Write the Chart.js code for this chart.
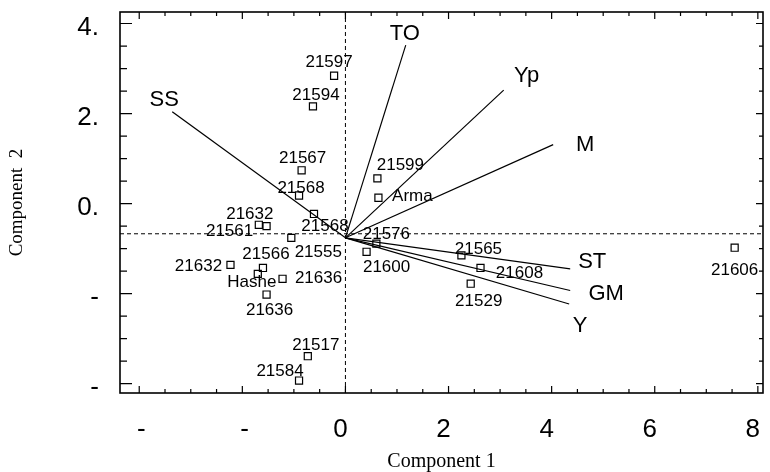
<!DOCTYPE html>
<html>
<head>
<meta charset="utf-8">
<script src="https://cdn.jsdelivr.net/npm/chart.js@4.4.1/dist/chart.umd.min.js"></script>
<style>
html, body { margin: 0; padding: 0; background: #fff; }
#wrap { width: 770px; height: 472px; position: relative; }
</style>
</head>
<body>
<div id="wrap"><canvas id="biplot"></canvas></div>
<script>
// scores (genotypes)
var pointNames = ['21597', '21594', '21567', '21568', '21599', 'Arma', '21568', '21632', '21561', '21555',
  '21566', '21632', 'Hashe', '21636', '21636', '21517', '21584', '21576', '21600', '21565', '21608', '21529', '21606'];
var pointX = [-0.22, -0.63, -0.85, -0.90, 0.62, 0.64, -0.61, -1.68, -1.53, -1.05,
  -1.60, -2.23, -1.70, -1.22, -1.53, -0.73, -0.90, 0.60, 0.41, 2.25, 2.62, 2.43, 7.55];
var pointY = [2.84, 2.16, 0.74, 0.18, 0.56, 0.13, -0.23, -0.47, -0.50, -0.76,
  -1.43, -1.36, -1.56, -1.67, -2.02, -3.39, -3.93, -0.89, -1.07, -1.15, -1.43, -1.78, -0.98];

// loadings (traits)
var vectorNames = ['SS', 'TO', 'Yp', 'M', 'ST', 'GM', 'Y'];
var vectorX = [-3.36, 1.17, 3.07, 4.03, 4.36, 4.36, 4.34];
var vectorY = [2.04, 3.52, 2.52, 1.31, -1.45, -1.93, -2.23];
var vectorOrigin = [0, -0.76];
var refLineY = -0.67;

// axes
var xMin = -4.373, xMax = 8.10;
var yMin = -4.207, yMax = 4.256;
var xTickValues = [-4, -2, 0, 2, 4, 6, 8];
var xTickText = ['  -', '  -', '0', '2', '4', '6', '8'];
var yTickValues = [4, 2, 0, -2, -4];
var yTickText = ['4.', '2.', '0.', '-', '-'];

// label placement in pixels relative to the marker
var pointLabelOffsets = [[-5, -13], [3, -11], [1, -12], [2, -7], [23, -13], [34, -1], [11, 12], [-9, -10], [-37, 5], [27, 14],
  [3, -14], [-32, 1], [-6, 8], [36, 0], [3, 16], [8, -11], [-19, -9], [10, -9], [20, 16], [17, -6], [39, 5], [8, 18], [0, 23]];
var vectorLabelOffsets = [[-8, -12], [-1, -11], [23, -14], [32, 0], [22, -7], [36, 3], [11, 22]];

function findLabel(values, texts, value) {
  var i = values.findIndex(function(v) { return Math.abs(v - value) < 1e-6; });
  return i < 0 ? '' : texts[i];
}
function isHalfStep(v) {
  return Math.abs(v * 2 - Math.round(v * 2)) < 1e-6;
}
function isMajor(values, v) {
  return values.some(function(m) { return Math.abs(m - v) < 1e-6; });
}

var datasets = [{
  data: [{x: xMin, y: refLineY}, {x: xMax, y: refLineY}],
  showLine: true, pointRadius: 0, borderColor: '#000', borderWidth: 1, borderDash: [4, 3]
}, {
  data: [{x: 0, y: yMin}, {x: 0, y: yMax}],
  showLine: true, pointRadius: 0, borderColor: '#000', borderWidth: 1, borderDash: [4, 3]
}];

vectorNames.forEach(function(name, i) {
  datasets.push({
    label: name,
    data: [{x: vectorOrigin[0], y: vectorOrigin[1]}, {x: vectorX[i], y: vectorY[i]}],
    showLine: true, pointRadius: 0, borderColor: '#000', borderWidth: 1.2
  });
});

datasets.push({
  label: 'scores',
  data: pointX.map(function(x, i) { return {x: x, y: pointY[i]}; }),
  pointStyle: 'rect', pointRadius: 5, borderColor: '#000', borderWidth: 1.2,
  backgroundColor: 'rgba(0,0,0,0)'
});

var frameTicks = {
  id: 'frameTicks',
  afterDraw: function(chart) {
    var ctx = chart.ctx, a = chart.chartArea, x = chart.scales.x, y = chart.scales.y;
    ctx.save();
    ctx.strokeStyle = '#000';
    ctx.lineWidth = 1.2;
    ctx.beginPath();
    x.ticks.forEach(function(t) {
      var px = x.getPixelForValue(t.value);
      var len = isMajor(xTickValues, t.value) ? 7 : 4;
      ctx.moveTo(px, a.bottom); ctx.lineTo(px, a.bottom - len);
      ctx.moveTo(px, a.top); ctx.lineTo(px, a.top + len);
    });
    y.ticks.forEach(function(t) {
      var py = y.getPixelForValue(t.value);
      var major = isMajor(yTickValues, t.value);
      ctx.moveTo(a.left, py); ctx.lineTo(a.left + (major ? 12 : 7), py);
      ctx.moveTo(a.right, py); ctx.lineTo(a.right - (major ? 7 : 4), py);
    });
    ctx.stroke();
    ctx.lineWidth = 1.6;
    ctx.strokeRect(a.left, a.top, a.right - a.left, a.bottom - a.top);
    ctx.restore();
  }
};

var textLabels = {
  id: 'textLabels',
  afterDatasetsDraw: function(chart) {
    var ctx = chart.ctx, x = chart.scales.x, y = chart.scales.y;
    ctx.save();
    ctx.fillStyle = '#000';
    ctx.textAlign = 'center';
    ctx.textBaseline = 'middle';
    ctx.font = '17px "Liberation Sans", Arial, sans-serif';
    pointNames.forEach(function(name, i) {
      var o = pointLabelOffsets[i];
      ctx.fillText(name, x.getPixelForValue(pointX[i]) + o[0], y.getPixelForValue(pointY[i]) + o[1]);
    });
    ctx.font = '22px "Liberation Sans", Arial, sans-serif';
    vectorNames.forEach(function(name, i) {
      var o = vectorLabelOffsets[i];
      ctx.fillText(name, x.getPixelForValue(vectorX[i]) + o[0], y.getPixelForValue(vectorY[i]) + o[1]);
    });
    ctx.restore();
  }
};

var ctx = document.getElementById('biplot').getContext('2d');
var biplot = new Chart(ctx, {
  type: 'scatter',
  data: { datasets: datasets },
  plugins: [frameTicks, textLabels],
  options: {
    responsive: true,
    maintainAspectRatio: false,
    animation: false,
    layout: { padding: { top: 12, right: 7, left: 0, bottom: 0 } },
    plugins: {
      legend: { display: false },
      tooltip: { enabled: false }
    },
    scales: {
      x: {
        type: 'linear',
        min: xMin,
        max: xMax,
        grid: { display: false },
        border: { display: false },
        afterBuildTicks: function(scale) {
          scale.ticks = scale.ticks.filter(function(t) { return isHalfStep(t.value); });
        },
        afterFit: function(scale) {
          scale.height = 79;
          scale.paddingLeft = 0;
          scale.paddingRight = 0;
        },
        ticks: {
          stepSize: 0.5,
          includeBounds: false,
          autoSkip: false,
          maxRotation: 0,
          padding: 13,
          labelOffset: -5,
          color: '#000',
          font: { family: '"Liberation Sans", Arial, sans-serif', size: 26 },
          callback: function(value) { return findLabel(xTickValues, xTickText, value); }
        },
        title: {
          display: true,
          text: 'Component 1',
          color: '#000',
          padding: { top: 0, bottom: 0 },
          font: { family: '"Liberation Serif", "Times New Roman", serif', size: 20, lineHeight: 1 }
        }
      },
      y: {
        type: 'linear',
        min: yMin,
        max: yMax,
        grid: { display: false },
        border: { display: false },
        afterBuildTicks: function(scale) {
          scale.ticks = scale.ticks.filter(function(t) { return isHalfStep(t.value); });
        },
        afterFit: function(scale) {
          scale.width = 120;
          scale.paddingTop = 0;
          scale.paddingBottom = 0;
        },
        ticks: {
          stepSize: 0.5,
          includeBounds: false,
          autoSkip: false,
          padding: 13,
          labelOffset: 4,
          color: '#000',
          font: { family: '"Liberation Sans", Arial, sans-serif', size: 26 },
          callback: function(value) { return findLabel(yTickValues, yTickText, value); }
        },
        title: {
          display: true,
          text: 'Component  2',
          color: '#000',
          padding: { top: 8, bottom: 0 },
          font: { family: '"Liberation Serif", "Times New Roman", serif', size: 19, lineHeight: 1 }
        }
      }
    }
  }
});
</script>
</body>
</html>
